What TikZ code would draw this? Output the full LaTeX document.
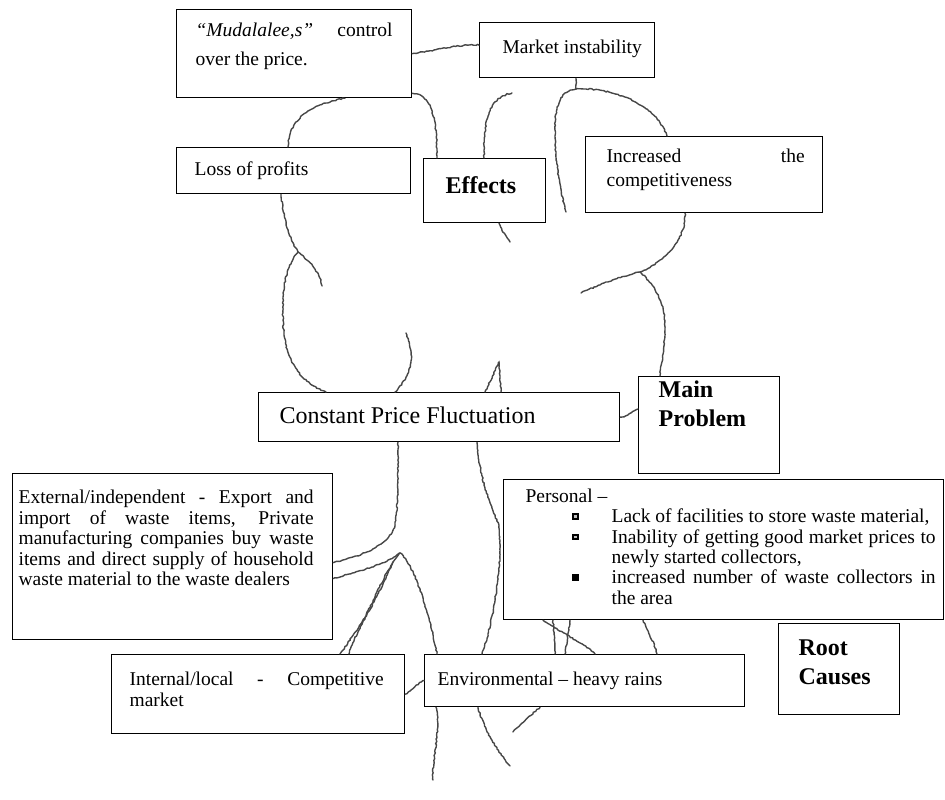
\documentclass[tikz,border=0pt]{standalone}
\usepackage{fontspec}
\setmainfont{Liberation Serif}
\usetikzlibrary{decorations.pathmorphing}
\tikzset{
  box/.style={draw=black, line width=1.3pt, inner sep=0pt, anchor=north west, fill=white,
    font=\fontsize{19.5pt}{20.3pt}\selectfont},
  root/.style={draw=black!72, line width=1.4pt, line cap=round, decorate,
    decoration={random steps, segment length=2pt, amplitude=0.6pt}},
}
\newcommand\bx[9]{\node[box] (#1) at (#2,#3) {\parbox[c][#5pt][t]{#4pt}{\leftskip=#6pt\rightskip=#7pt\relax\rule{0pt}{#8pt}#9}};}
\newcommand\bulA{\raisebox{3pt}{\rlap{\rule{6.5pt}{6.5pt}}\hspace*{2pt}{\color{gray!50}\rule[2pt]{2.5pt}{2.5pt}}\hspace*{2pt}}}
\newcommand\bulB{\raisebox{3pt}{\rule{6.5pt}{6.5pt}}}
\newcommand\hd{\fontsize{24pt}{29pt}\selectfont\bfseries}
\begin{document}
\begin{tikzpicture}[x=1pt,y=-1pt]
\pgfmathsetseed{7}
\useasboundingbox (0,0) rectangle (945,800);
% ---- boxes ----
\bx{mud}{176}{9}{235}{88}{19}{19}{27}{\baselineskip=29pt \textit{``Mudalalee,s''} control\linebreak over the price.}
\bx{mkt}{479}{22}{175}{55}{23}{5}{31}{Market instability}
\bx{loss}{176}{147}{234}{46}{18}{5}{28}{Loss of profits}
\bx{effects}{423}{158}{122}{64}{22}{0}{35}{\hd Effects}
\bx{inc}{585}{136}{237}{76}{21}{18}{26}{\baselineskip=24pt Increased the\linebreak competitiveness}
\bx{cpf}{258}{392}{361}{49}{21}{5}{31}{\fontsize{24pt}{28pt}\selectfont Constant Price Fluctuation}
\bx{main}{638}{376}{141}{97}{20}{0}{21}{\hd Main\par Problem}
\bx{pers}{503}{479}{440}{140}{22}{8}{23}{Personal --\par
  \leftskip=108pt \rightskip=8pt
  \leavevmode\llap{\bulA\hspace*{33pt}}Lack of facilities to store waste material,\par
  \leavevmode\llap{\bulA\hspace*{33pt}}Inability of getting good market prices to\linebreak newly started collectors,\par
  \leavevmode\llap{\bulB\hspace*{33pt}}increased number of waste collectors in\linebreak the area}
\bx{ext}{12}{473}{320}{166}{6}{19}{30}{\baselineskip=20.5pt External/independent - Export and\linebreak import of waste items, Private\linebreak manufacturing companies buy waste\linebreak items and direct supply of household\linebreak waste material to the waste dealers}
\bx{int}{111}{654}{293}{79}{18}{21}{31}{\baselineskip=20.5pt Internal/local - Competitive\linebreak market}
\bx{env}{424}{654}{320}{52}{13}{5}{31}{Environmental -- heavy rains}
\bx{root}{778}{623}{121}{91}{20}{0}{32}{\hd Root\par Causes}
% ---- free ends and junctions ----
\coordinate (jm) at (576,89);
\coordinate (cm1) at (512,93);
\coordinate (cm2) at (566,212);
\coordinate (ce) at (510,242);
\coordinate (jl) at (298,252);
\coordinate (cl1) at (322,286);
\coordinate (cc1) at (406,333);
\coordinate (cc2) at (499,362);
\coordinate (ji) at (640,272);
\coordinate (ci1) at (581,293);
\coordinate (jb) at (400,553);
\coordinate (jb2) at (393,562);
\coordinate (cr1) at (433,780);
\coordinate (cr2) at (510,766);
\coordinate (cr3) at (513,732);
% ---- effects branches ----
\draw[root] (mud.east) .. controls (440,50) and (458,44) .. ([yshift=5pt]mkt.west);
\draw[root] ([xshift=169pt]mud.south west) .. controls (312,104) and (289,118) .. ([xshift=112pt]loss.north west);
\draw[root] ([yshift=5pt]mud.south east) .. controls (428,95) and (437,108) .. ([xshift=14pt]effects.north west);
\draw[root] ([xshift=61pt]effects.north west) .. controls (484,120) and (488,98) .. (cm1);
\draw[root] (jm) -- ([xshift=97pt]mkt.south west);
\draw[root] (jm) .. controls (612,87) and (656,104) .. ([xshift=82pt]inc.north west);
\draw[root] (jm) .. controls (561,91) and (555,104) .. (555,130) .. controls (555,165) and (561,192) .. (cm2);
\draw[root] ([xshift=76pt]effects.south west) .. controls (503,232) .. (ce);
% ---- trunk top ----
\draw[root] ([xshift=105pt]loss.south west) .. controls (283,215) and (288,236) .. (jl);
\draw[root] (jl) .. controls (310,262) and (320,272) .. (cl1);
\draw[root] (jl) .. controls (285,268) and (282,290) .. (283,320) .. controls (284,360) and (300,382) .. ([xshift=68pt]cpf.north west);
\draw[root] ([xshift=137pt]cpf.north west) .. controls (406,380) and (413,368) .. (411,352) .. controls (410,344) and (408,338) .. (cc1);
\draw[root] ([xshift=227pt]cpf.north west) -- (cc2) -- ([xshift=243pt]cpf.north west);
\draw[root] ([xshift=100pt]inc.south west) .. controls (686,240) and (664,262) .. (ji);
\draw[root] (ji) .. controls (615,278) and (596,286) .. (ci1);
\draw[root] (ji) .. controls (655,285) and (666,305) .. (665,330) .. controls (664,350) and (661,365) .. ([xshift=22pt]main.north west);
\draw[root] (cpf.east) .. controls (627,418) and (632,410) .. ([yshift=16pt]main.west);
% ---- roots ----
\draw[root] ([xshift=140pt]cpf.south west) .. controls (398,480) and (398,510) .. (395,525) .. controls (390,545) and (362,556) .. ([yshift=-6pt]ext.east);
\draw[root] ([yshift=-22pt]ext.east) .. controls (355,572) and (382,566) .. (jb);
\draw[root] (jb) .. controls (413,565) and (421,592) .. (428,615) .. controls (432,630) and (435,645) .. ([xshift=13pt]env.north west);
\draw[root] (jb) .. controls (385,570) and (375,600) .. (362,622) .. controls (353,636) and (345,647) .. ([xshift=229pt]int.north west);
\draw[root] (jb2) .. controls (384,585) and (368,612) .. (358,632) .. controls (354,640) and (350,648) .. ([xshift=238pt]int.north west);
\draw[root] (int.east) .. controls (412,690) and (417,684) .. (env.west);
\draw[root] ([xshift=12pt]env.south west) .. controls (441,730) and (432,760) .. (cr1);
\draw[root] ([xshift=54pt]env.south west) .. controls (484,730) and (498,752) .. (cr2);
\draw[root] ([xshift=116pt]env.south west) .. controls (530,716) and (520,724) .. (cr3);
\draw[root] ([xshift=40pt]pers.south west) .. controls (560,632) and (582,642) .. ([xshift=171pt]env.north west);
\draw[root] ([xshift=50pt]pers.south west) -- ([xshift=131pt]env.north west);
\draw[root] ([xshift=67pt]pers.south west) -- ([xshift=141pt]env.north west);
\draw[root] ([xshift=140pt]pers.south west) .. controls (648,632) and (654,642) .. ([xshift=233pt]env.north west);
\draw[root] ([xshift=219pt]cpf.south west) .. controls (480,480) and (490,505) .. (499,525) .. controls (503,560) and (494,620) .. ([xshift=58pt]env.north west);
\end{tikzpicture}
\end{document}
